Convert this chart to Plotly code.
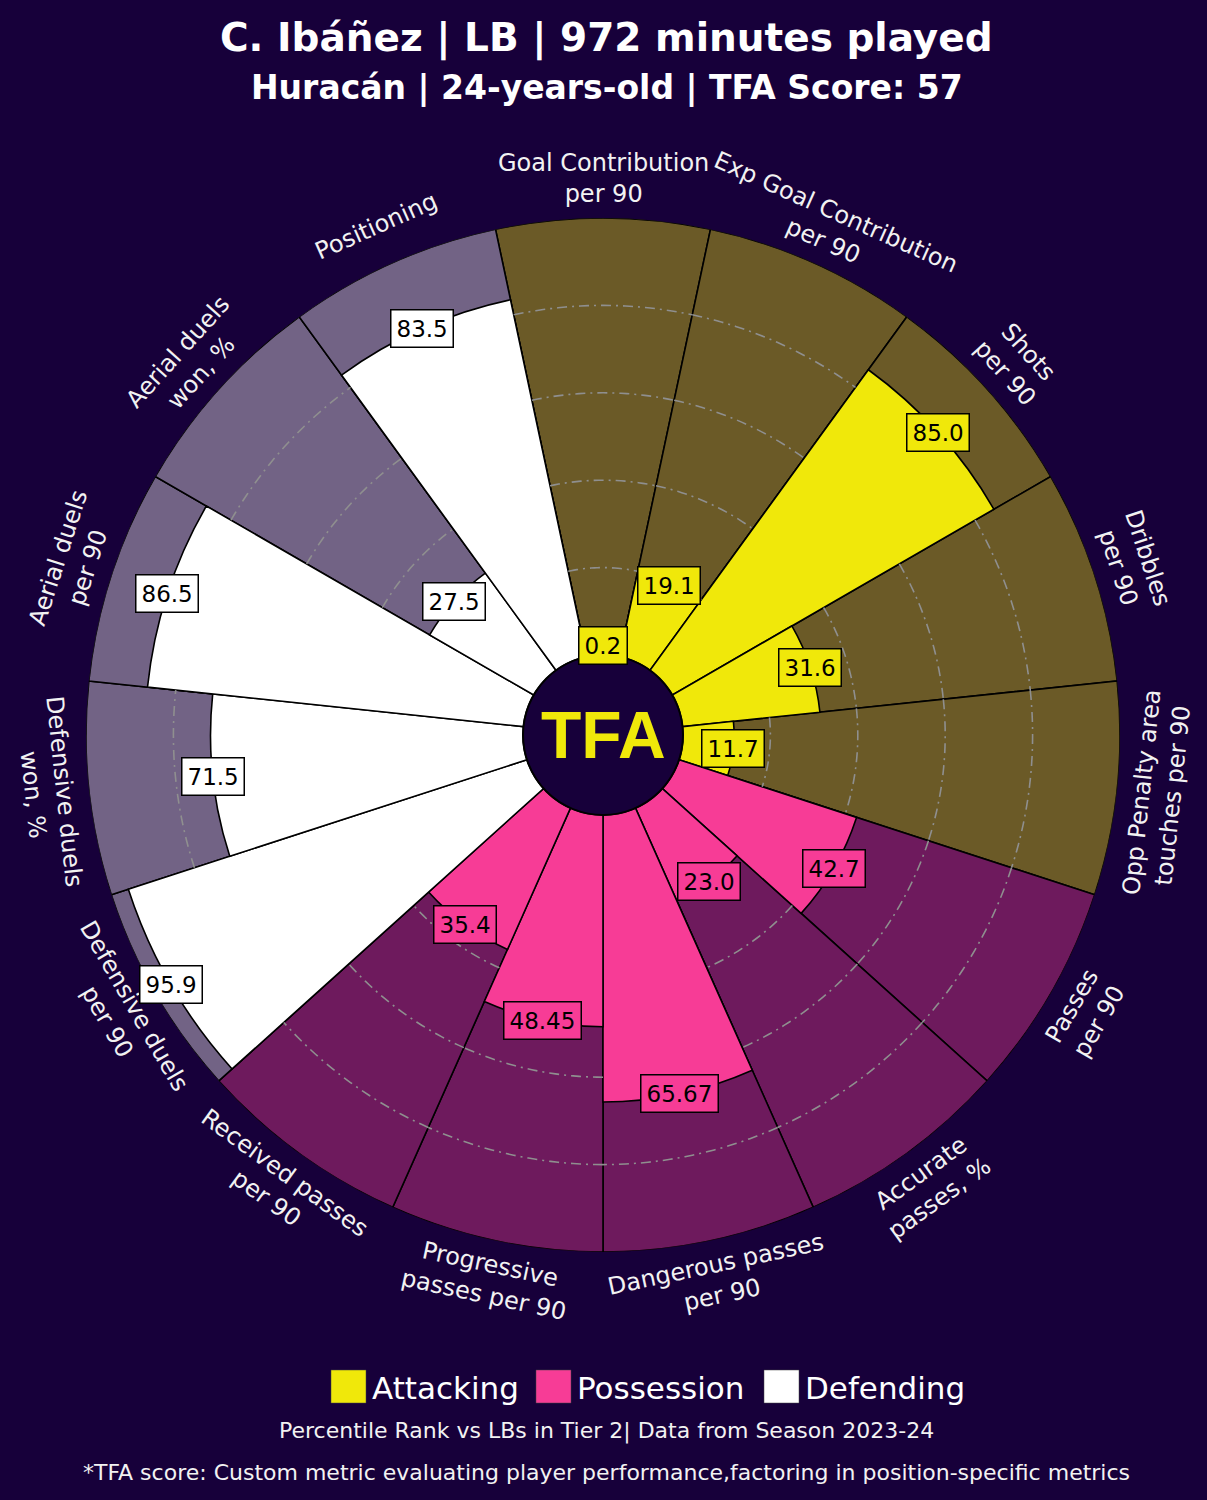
import math
import plotly.graph_objects as go

# ---------------- data ----------------
params = [
    "Goal Contribution<br>per 90",
    "Exp Goal Contribution<br>per 90",
    "Shots<br>per 90",
    "Dribbles<br>per 90",
    "Opp Penalty area<br>touches per 90",
    "Passes<br>per 90",
    "Accurate<br>passes, %",
    "Dangerous passes<br>per 90",
    "Progressive<br>passes per 90",
    "Received passes<br>per 90",
    "Defensive duels<br>per 90",
    "Defensive duels<br>won, %",
    "Aerial duels<br>per 90",
    "Aerial duels<br>won, %",
    "Positioning",
]
values = [0.2, 19.1, 85.0, 31.6, 11.7,
          42.7, 23.0, 65.67, 48.45, 35.4,
          95.9, 71.5, 86.5, 27.5, 83.5]
value_labels = ["0.2", "19.1", "85.0", "31.6", "11.7",
                "42.7", "23.0", "65.67", "48.45", "35.4",
                "95.9", "71.5", "86.5", "27.5", "83.5"]
groups = ["Attacking"] * 5 + ["Possession"] * 5 + ["Defending"] * 5
legend_names = ["Attacking", "Possession", "Defending"]
grid_levels = [20, 40, 60, 80]

title = "C. Ibáñez | LB | 972 minutes played"
subtitle = "Huracán | 24-years-old | TFA Score: 57"
footer1 = "Percentile Rank vs LBs in Tier 2| Data from Season 2023-24"
footer2 = "*TFA score: Custom metric evaluating player performance,factoring in position-specific metrics"

# ---------------- style ----------------
BG = "#17003a"
FG = {"Attacking": "#f0e80a", "Possession": "#f73c96", "Defending": "#ffffff"}
SLICE_BG = {"Attacking": "#6b5a27", "Possession": "#6e1a5d", "Defending": "#726385"}
FONT = "DejaVu Sans"

W, H = 1207, 1500
CX, CY = 603, 735
R_OUT, R_IN = 517, 80
n = len(params)
STEP = 360 / n
thetas = [i * STEP for i in range(n)]


def px_to_paper(x, y):
    return x / W, 1 - y / H


def polar_px(r_val, theta):
    a = math.radians(90 - theta)
    r = R_IN + r_val / 100 * (R_OUT - R_IN)
    return CX + r * math.cos(a), CY - r * math.sin(a)


fig = go.Figure()

# background slices
fig.add_trace(go.Barpolar(
    r=[100] * n, theta=thetas, width=[STEP] * n,
    marker=dict(color=[SLICE_BG[g] for g in groups], line=dict(color="black", width=1.6)),
    hoverinfo="skip", showlegend=False,
))
# value slices
fig.add_trace(go.Barpolar(
    r=values, theta=thetas, width=[STEP] * n,
    marker=dict(color=[FG[g] for g in groups], line=dict(color="black", width=1.6)),
    hoverinfo="skip", showlegend=False,
))

# grid arcs visible only outside value bars
for lvl in grid_levels:
    rr, tt = [], []
    for th, v in zip(thetas, values):
        if lvl > v:
            k = 24
            for j in range(k + 1):
                tt.append(th - STEP / 2 + STEP * j / k)
                rr.append(lvl)
            tt.append(None)
            rr.append(None)
    fig.add_trace(go.Scatterpolar(
        r=rr, theta=tt, mode="lines",
        line=dict(color="#8f8f8f", width=1.6, dash="10px,5px,2px,5px"),
        hoverinfo="skip", showlegend=False, connectgaps=False,
    ))

dom_x = [(CX - R_OUT) / W, (CX + R_OUT) / W]
dom_y = [1 - (CY + R_OUT) / H, 1 - (CY - R_OUT) / H]

annotations = []
shapes = []

# parameter labels
for p, th in zip(params, thetas):
    a = 90 - th
    a = (a + 180) % 360 - 180
    rot = a - 90 if a >= 0 else a + 90
    R_LAB = 557
    x = CX + R_LAB * math.cos(math.radians(a))
    y = CY - R_LAB * math.sin(math.radians(a))
    xp, yp = px_to_paper(x, y)
    annotations.append(dict(
        x=xp, y=yp, xref="paper", yref="paper", text=p, showarrow=False,
        textangle=-rot, xanchor="center", yanchor="middle",
        font=dict(family=FONT, size=24, color="#f2f2f2"), align="center",
    ))

# value boxes
for v, lab, th, g in zip(values, value_labels, thetas, groups):
    x, y = polar_px(max(v, 2.2), th)
    xp, yp = px_to_paper(x, y)
    annotations.append(dict(
        x=xp, y=yp, xref="paper", yref="paper", text=lab, showarrow=False,
        xanchor="center", yanchor="middle",
        font=dict(family=FONT, size=23, color="black"),
        bgcolor=FG[g], bordercolor="black", borderwidth=1.5, borderpad=5,
    ))

# center circle + logo
x0, y0 = px_to_paper(CX - R_IN, CY + R_IN)
x1, y1 = px_to_paper(CX + R_IN, CY - R_IN)
shapes.append(dict(type="circle", xref="paper", yref="paper", x0=x0, y0=y0, x1=x1, y1=y1,
                   fillcolor=BG, line=dict(color="black", width=2), layer="above"))
cx, cy = px_to_paper(CX, CY)
annotations.append(dict(x=cx, y=cy, xref="paper", yref="paper", text="<b>TFA</b>", showarrow=False,
                        xanchor="center", yanchor="middle",
                        font=dict(family="Liberation Sans", size=66, color="#f0e80a")))

# title
for txt, ypx, size in [(title, 38, 39), (subtitle, 88, 33)]:
    xp, yp = px_to_paper(W / 2 + 3, ypx)
    annotations.append(dict(x=xp, y=yp, xref="paper", yref="paper", text="<b>" + txt + "</b>",
                            showarrow=False, xanchor="center", yanchor="middle",
                            font=dict(family=FONT, size=size, color="white")))

# legend
leg_x = [331, 536, 764]
for name, lx in zip(legend_names, leg_x):
    sx0, sy0 = px_to_paper(lx, 1403)
    sx1, sy1 = px_to_paper(lx + 35, 1370)
    shapes.append(dict(type="rect", xref="paper", yref="paper", x0=sx0, y0=sy0, x1=sx1, y1=sy1,
                       fillcolor=FG[name], line=dict(color="#444444", width=0.5)))
    tx, ty = px_to_paper(lx + 39, 1388)
    annotations.append(dict(x=tx, y=ty, xref="paper", yref="paper", text=name, showarrow=False,
                            xanchor="left", yanchor="middle",
                            font=dict(family=FONT, size=31, color="white")))

# footers
for txt, ypx in [(footer1, 1431), (footer2, 1472)]:
    xp, yp = px_to_paper(W / 2 + 3, ypx)
    annotations.append(dict(x=xp, y=yp, xref="paper", yref="paper", text=txt, showarrow=False,
                            xanchor="center", yanchor="middle",
                            font=dict(family=FONT, size=22, color="#f2f2f2")))

fig.update_layout(
    width=W, height=H, margin=dict(l=0, r=0, t=0, b=0),
    paper_bgcolor=BG, plot_bgcolor=BG,
    showlegend=False,
    polar=dict(
        domain=dict(x=dom_x, y=dom_y),
        bgcolor=BG,
        hole=R_IN / R_OUT,
        barmode="overlay",
        radialaxis=dict(range=[0, 100], visible=False, showgrid=False),
        angularaxis=dict(rotation=90, direction="clockwise", showgrid=False, showline=False,
                         showticklabels=False, ticks=""),
    ),
    annotations=annotations,
    shapes=shapes,
)

fig.write_html("out.html", config={"displayModeBar": False},
               post_script="document.body.style.margin='0';document.body.style.background='%s';" % BG)
